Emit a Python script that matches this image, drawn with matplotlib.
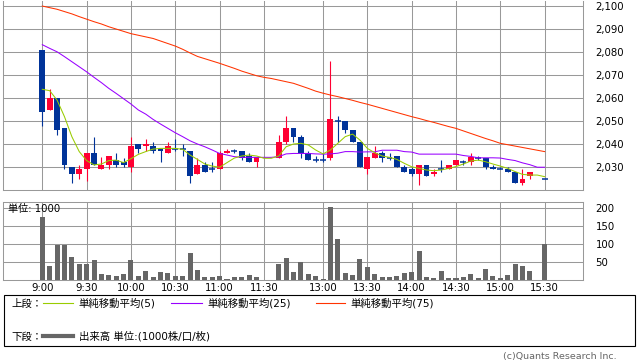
import matplotlib
matplotlib.use("Agg")
import matplotlib.pyplot as plt
from matplotlib.patches import Rectangle
import numpy as np

plt.rcParams["font.family"] = ["DejaVu Sans", "Noto Sans CJK JP"]

# x slots are 5-minute bars; 11:30/11:35 and 15:25 are empty
tick_slots = [0, 6, 12, 18, 24, 30, 38, 44, 50, 56, 62, 68]
tick_labels = ["9:00", "9:30", "10:00", "10:30", "11:00", "11:30",
               "13:00", "13:30", "14:00", "14:30", "15:00", "15:30"]

N = None
opens = [2081, 2055, 2060, 2047, 2030, 2027, 2029, 2036, 2029, 2031,
         2033, 2032, 2030, 2040, 2039, 2039, 2038, 2036, 2038, 2038,
         2037, 2027, 2031, 2029, 2029, 2036, 2037, 2037, 2035, 2032,
         N, N, 2034, 2041, 2047, 2043, 2036, 2033, 2033, 2034,
         2050, 2050, 2046, 2041, 2029, 2034, 2036, 2034, 2035, 2030,
         2029, 2027, 2031, 2027, 2029, 2029, 2031, 2032, 2032, 2034,
         2034, 2030, 2029, 2029, 2028, 2023, 2026, N, 2025]
highs = [2081, 2064, 2060, 2047, 2030, 2031, 2036, 2043, 2034.5, 2035,
         2036, 2034, 2043, 2040, 2042, 2041, 2038, 2041, 2042, 2040,
         2037, 2034, 2032, 2032, 2037, 2038, 2038, 2037, 2036, 2034.5,
         N, N, 2044, 2052, 2047, 2044, 2037, 2035, 2036, 2076,
         2052, 2050, 2046, 2041, 2034.5, 2039, 2037, 2036, 2035, 2031,
         2030, 2031, 2031, 2029, 2033, 2031, 2033, 2033, 2036, 2035,
         2034, 2031, 2030, 2030, 2028, 2029, 2028, N, 2025]
lows = [2048, 2055, 2044, 2029, 2023, 2025, 2024, 2031, 2029, 2029,
        2030, 2030, 2028, 2036, 2037, 2036, 2032, 2036, 2037, 2035,
        2023, 2027, 2028, 2028, 2029, 2036, 2036, 2033, 2032, 2030,
        N, N, 2034, 2040, 2041, 2034, 2033, 2032, 2032, 2033,
        2041, 2045, 2041, 2030, 2027, 2034, 2032, 2033, 2030, 2028,
        2026, 2022, 2026, 2026, 2028, 2029, 2031, 2031, 2031, 2033,
        2029, 2029, 2029, 2028, 2023, 2022, 2025, N, 2025]
closes = [2054, 2060, 2046, 2031, 2027, 2029, 2036, 2031, 2031, 2035,
          2031, 2031, 2039, 2038, 2040, 2037, 2037, 2039, 2038, 2038,
          2026, 2031, 2028, 2029, 2036, 2037, 2037, 2034, 2032, 2034.5,
          N, N, 2041, 2047, 2043, 2036, 2033, 2033, 2033, 2051,
          2050, 2046, 2041, 2030, 2034.5, 2036, 2034, 2034, 2030, 2028,
          2027, 2031, 2026, 2028, 2029, 2031, 2033, 2032, 2034.5, 2034,
          2030, 2029, 2029, 2028, 2023, 2025, 2028, N, 2025]

ma5 = [2063.8, 2063.2, 2059.1, 2051.9, 2043.2, 2036.7, 2032.8, 2030.9, 2031.3, 2032.8,
       2033.0, 2031.9, 2033.6, 2035.5, 2036.7, 2037.8, 2038.1, 2038.1, 2038.1, 2037.7,
       2035.2, 2033.3, 2031.3, 2030.4, 2029.9, 2031.9, 2033.9, 2034.8, 2035.2, 2034.8,
       2033.8, 2033.8, 2034.8, 2038.8, 2040.0, 2040.3, 2039.6, 2037.4, 2035.7, 2037.4,
       2040.3, 2043.2, 2044.3, 2041.7, 2038.1, 2036.2, 2034.8, 2034.2, 2033.3, 2031.6,
       2030.1, 2029.4, 2028.7, 2028.4, 2028.7, 2029.4, 2030.2, 2031.3, 2032.6, 2033.0,
       2032.3, 2031.3, 2030.4, 2029.4, 2028.0, 2026.8, 2026.5, 2026.5, 2025.8]
ma25 = [2083.2, 2081.6, 2080.1, 2078.0, 2075.8, 2073.6, 2071.4, 2069.0, 2066.7, 2064.2,
        2062.0, 2059.7, 2057.4, 2054.8, 2053.0, 2050.7, 2048.7, 2046.8, 2044.9, 2043.2,
        2041.4, 2040.0, 2038.8, 2037.4, 2035.9, 2035.2, 2034.5, 2034.2, 2034.2, 2034.2,
        2034.2, 2034.2, 2034.5, 2035.7, 2035.9, 2035.9, 2035.9, 2035.7, 2035.6, 2035.7,
        2036.0, 2036.7, 2036.7, 2036.5, 2036.6, 2036.6, 2037.3, 2037.3, 2037.3, 2036.7,
        2036.5, 2035.6, 2035.6, 2035.6, 2035.6, 2035.6, 2035.6, 2035.0, 2034.6, 2034.0,
        2034.0, 2034.0, 2033.9, 2033.3, 2032.8, 2031.8, 2031.0, 2029.9, 2029.9]
ma75 = [2100.0, 2099.3, 2098.6, 2097.6, 2096.6, 2095.4, 2094.3, 2093.2, 2092.2, 2091.0,
        2090.0, 2089.0, 2088.0, 2087.3, 2086.6, 2085.9, 2084.8, 2083.7, 2082.6, 2081.2,
        2079.6, 2078.1, 2077.1, 2076.1, 2075.1, 2074.0, 2072.9, 2071.7, 2070.7, 2069.7,
        2069.0, 2068.5, 2067.8, 2067.1, 2066.4, 2065.3, 2064.2, 2063.0, 2062.1, 2061.3,
        2060.6, 2059.8, 2059.0, 2058.1, 2057.3, 2056.4, 2055.5, 2054.6, 2053.7, 2052.8,
        2051.9, 2051.1, 2050.2, 2049.4, 2048.5, 2047.6, 2046.8, 2045.7, 2044.6, 2043.5,
        2042.4, 2041.4, 2040.3, 2039.7, 2039.1, 2038.5, 2037.9, 2037.3, 2036.7]

volume = [176, 41, 98, 98, 65, 45, 45, 56, 18, 15,
          12, 18, 56, 13, 26, 9, 23, 20, 12, 12,
          76, 29, 9, 9, 12, 4, 9, 9, 15, 9,
          0, 0, 45, 62, 23, 51, 18, 12, 4, 204,
          116, 20, 15, 59, 37, 18, 9, 9, 12, 20,
          23, 81, 9, 6, 26, 6, 6, 9, 18, 6,
          31, 12, 6, 15, 45, 40, 26, 0, 101]

RED = "#ff0033"
BLUE = "#003399"
GRID = "#999999"

W, H = 638, 362
fig = plt.figure(figsize=(W / 100, H / 100), dpi=100)

ax = fig.add_axes([3 / W, 1 - 190 / H, 580 / W, 189 / H])
axv = fig.add_axes([3 / W, 1 - 280.3 / H, 580 / W, 78.6 / H])

x = np.arange(len(opens))
o = np.array([np.nan if v is None else v for v in opens], float)
h = np.array([np.nan if v is None else v for v in highs], float)
l = np.array([np.nan if v is None else v for v in lows], float)
c = np.array([np.nan if v is None else v for v in closes], float)

up = c > o
cols = np.where(up, RED, BLUE)
ok = ~np.isnan(o)

# candles
ax.vlines(x[ok], l[ok], h[ok], colors=cols[ok], lw=0.8, zorder=3)
body = np.abs(c - o)
isbody = ok & (body > 0)
ax.bar(x[isbody], body[isbody], bottom=np.minimum(o, c)[isbody], width=0.8,
       color=cols[isbody], zorder=4)
doji = ok & (body == 0)
ax.hlines(c[doji], x[doji] - 0.4, x[doji] + 0.4, colors=cols[doji], lw=1.1, zorder=4)

# moving averages
ax.plot(x, ma75, color="#ff3300", lw=0.75, zorder=5)
ax.plot(x, ma25, color="#9900ff", lw=0.75, zorder=5)
ax.plot(x, ma5, color="#99cc00", lw=0.75, zorder=5)

xl = (-5.32, 73.19)
ax.set_xlim(*xl)
ax.set_ylim(2020, 2102.2)
ax.set_yticks(range(2030, 2101, 10))
ax.set_yticklabels([f"{v:,}" for v in range(2030, 2101, 10)])
ax.yaxis.tick_right()
ax.set_xticks(tick_slots)
ax.set_xticklabels([])
ax.tick_params(length=0, pad=9, labelsize=7.3)
ax.grid(color=GRID, lw=0.75)
ax.set_axisbelow(True)
for s in ax.spines.values():
    s.set_color(GRID)
    s.set_linewidth(0.75)
ax.spines["top"].set_visible(False)

# volume
axv.bar(x, volume, width=0.68, color="#666666", zorder=3)
axv.set_xlim(*xl)
axv.set_ylim(0, 218.3)
axv.set_yticks([50, 100, 150, 200])
axv.yaxis.tick_right()
axv.set_xticks(tick_slots)
axv.set_xticklabels(tick_labels)
axv.tick_params(length=0, labelsize=7.3)
axv.tick_params(axis="y", pad=9)
axv.tick_params(axis="x", pad=2)
axv.grid(color=GRID, lw=0.75)
axv.set_axisbelow(True)
for s in axv.spines.values():
    s.set_color(GRID)
    s.set_linewidth(0.75)

# overlay for texts and the legend box
ov = fig.add_axes([0, 0, 1, 1])
ov.set_xlim(0, W)
ov.set_ylim(H, 0)
ov.axis("off")

ov.text(8, 209, "単位: 1000", fontsize=7.3, va="center")

ov.add_patch(Rectangle((3.5, 295), 631, 51, fill=False, ec="black", lw=0.8))
fs = 7.5
ov.text(11, 303.5, "上段：", fontsize=fs, va="center")
ov.plot([43, 73], [303, 303], color="#99cc00", lw=0.8)
ov.text(78, 303.5, "単純移動平均(5)", fontsize=fs, va="center")
ov.plot([171, 202], [303, 303], color="#9900ff", lw=0.8)
ov.text(207, 303.5, "単純移動平均(25)", fontsize=fs, va="center")
ov.plot([316, 345], [303, 303], color="#ff3300", lw=0.8)
ov.text(350, 303.5, "単純移動平均(75)", fontsize=fs, va="center")
ov.text(11, 336.5, "下段：", fontsize=fs, va="center")
ov.plot([43, 73], [336, 336], color="#666666", lw=3)
ov.text(79, 336.5, "出来高 単位:(1000株/口/枚)", fontsize=fs, va="center")

ov.text(617, 357, "(c)Quants Research Inc.", fontsize=6.8, color="#666666",
        ha="right", va="center")

fig.savefig("out.png", dpi=100)
